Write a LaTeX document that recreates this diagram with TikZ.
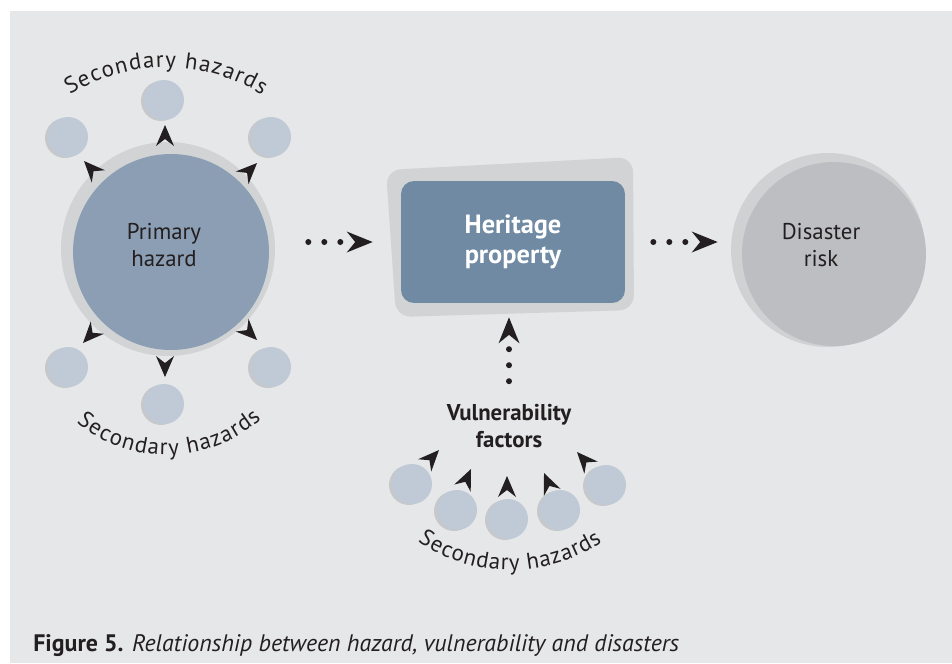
\documentclass[tikz,border=0pt]{standalone}
\usepackage{fontspec}
\setmainfont{PT Sans}
\usetikzlibrary{arrows.meta,decorations.text}

\definecolor{paper}{RGB}{230,231,232}
\definecolor{ringgrey}{RGB}{209,211,212}
\definecolor{hazardblue}{RGB}{139,158,180}
\definecolor{heritageblue}{RGB}{112,138,164}
\definecolor{bubblefill}{RGB}{192,201,214}
\definecolor{bubbleshade}{RGB}{199,200,202}
\definecolor{riskouter}{RGB}{208,209,211}
\definecolor{riskinner}{RGB}{189,190,193}
\definecolor{ink}{RGB}{35,31,32}

\newcommand{\labelfont}{\fontsize{13}{15}\selectfont}
\newcommand{\headfont}{\fontsize{15}{17}\selectfont}
\newcommand{\capfont}{\fontsize{13.6}{16}\selectfont}

\tikzset{
  disc/.style={circle, inner sep=0pt},
  sechaz/.style={circle, fill=bubblefill, minimum size=0.8cm, inner sep=0pt,
    preaction={fill=bubbleshade, transform canvas={xshift=-0.06cm, yshift=-0.02cm}}},
  plaintext/.style={align=center, inner sep=0pt, text=ink, font=\labelfont},
  dotarrow/.style={draw=ink, line width=0.12cm, line cap=round, dash pattern=on 0pt off 0.32cm,
    -{Stealth[length=0.52cm, width=0.42cm, inset=0.17cm, line width=0pt]}},
  curvetext/.style={decorate, decoration={text along path, text={|\labelfont|Secondary hazards},
    text color=ink, text align=fit to path}},
  headtip/.pic={\fill[ink] (0,0) -- (-21,9) -- (-14,0) -- (-21,-9) -- cycle;},
}

\begin{document}
\begin{tikzpicture}[x=0.02cm, y=0.02cm]
  \useasboundingbox (0,0) rectangle (952,-663);
  \fill[paper] (10,-11) rectangle (952,-663);

  % primary hazard
  \node[disc, fill=ringgrey, minimum size=4.28cm] (hazardring) at (168,-249) {};
  \node[disc, fill=hazardblue, minimum size=3.92cm] (hazard) at (171,-252) {};
  \node[plaintext] (hazardtext) at (164,-245) {Primary\\hazard};

  % secondary hazards round the primary one
  \foreach \n/\x/\y in {ht/164/100, htl/68/137, htr/271/137, hb/164/404, hbl/68/367, hbr/271/367}
    \node[sechaz] (\n) at (\x,-\y) {};
  \foreach \x/\y/\a in {165/125/90, 84/161/133, 257/163/45, 83/343/227, 165/377/270, 257/340/315}
    \pic[rotate=\a] at (\x,-\y) {headtip};

  % heritage property
  \fill[ringgrey, rounded corners=0.3cm] (386,-170) -- (633,-157) -- (634,-310) -- (396,-317) -- cycle;
  \node[rectangle, rounded corners=0.26cm, fill=heritageblue, minimum width=4.48cm, minimum height=2.44cm,
    text=white, font=\bfseries\headfont, align=center] (heritage) at (513,-242) {Heritage\\property};

  % disaster risk
  \node[disc, fill=riskouter, minimum size=3.88cm] (riskhalo) at (828,-250) {};
  \node[disc, fill=riskinner, minimum size=3.68cm] (disaster) at (834,-254) {};
  \node[plaintext] (disastertext) at (821,-245) {Disaster\\risk};

  % vulnerability factors
  \node[plaintext, font=\bfseries\labelfont] (vlabel) at (509,-426) {Vulnerability\\factors};
  \foreach \n/\x/\y in {v1/412/484, v2/457/510, v3/508/519, v4/560/510, v5/606/485}
    \node[sechaz] (\n) at (\x,-\y) {};
  \foreach \x/\y/\a in {439/450/47, 471/469/66, 507/476/90, 544/473/113, 577/452/132}
    \pic[rotate=\a] at (\x,-\y) {headtip};

  % connectors
  \draw[dotarrow, shorten <=0.78cm, shorten >=0.56cm] (hazard.east |- heritage) -- (heritage);
  \draw[dotarrow, shorten <=0.56cm, shorten >=0.48cm] (heritage) -- (heritage -| disaster.west);
  \draw[dotarrow, shorten <=0.46cm, shorten >=0.28cm] (vlabel) -- (vlabel |- heritage.south);

  % curved labels
  \path[curvetext] ([shift={(166,-249)}]122:181.5) arc[start angle=122, end angle=58, radius=181.5];
  \path[curvetext] ([shift={(167,-314)}]230:141) arc[start angle=230, end angle=312, radius=141];
  \path[curvetext] ([shift={(510,-405)}]236:165) arc[start angle=236, end angle=304, radius=165];

  \node[anchor=base west, inner sep=0pt, text=ink, font=\capfont] (caption) at (33,-651)
    {\textbf{Figure 5.} \textit{Relationship between hazard, vulnerability and disasters}};
\end{tikzpicture}
\end{document}
